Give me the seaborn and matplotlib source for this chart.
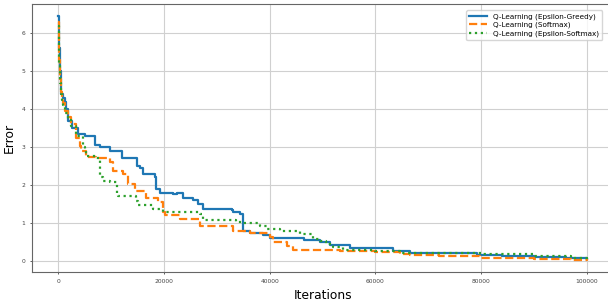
import numpy as np
import pandas as pd
import matplotlib
matplotlib.use("Agg")
import matplotlib.pyplot as plt
import seaborn as sns

# breakpoints (iteration, error); drawn as post-steps
greedy_x = [0, 100, 250, 400, 570, 900, 1200, 1500, 1800, 2500, 3650, 5000, 6900, 7800,
            9700, 12100, 14800, 15500, 16000, 18240, 18560, 19200, 21700, 22350, 23600,
            25500, 26400, 27400, 32760, 33000, 34400, 35000, 36200, 38700, 40000, 46400,
            49500, 51400, 55200, 63400, 66500, 79200, 84000, 90000, 96000, 100000]
greedy_y = [6.45, 5.6, 5.0, 4.7, 4.4, 4.3, 4.2, 4.0, 3.7, 3.5, 3.35, 3.3, 3.06, 3.0,
            2.9, 2.71, 2.5, 2.45, 2.3, 2.2, 1.89, 1.8, 1.76, 1.8, 1.65, 1.6, 1.5, 1.37,
            1.35, 1.28, 1.24, 0.8, 0.73, 0.67, 0.6, 0.55, 0.49, 0.42, 0.33, 0.27, 0.21,
            0.16, 0.13, 0.1, 0.07, 0.05]

softmax_x = [0, 100, 250, 400, 600, 900, 1300, 1800, 2400, 3400, 4000, 4360, 5300, 7200,
             7400, 9700, 10340, 12240, 13180, 14450, 16670, 18860, 19800, 20200, 22970,
             26800, 33070, 36200, 40000, 40650, 43200, 44400, 53300, 60000, 64600, 66500,
             72000, 79800, 90000, 97000, 100000]
softmax_y = [6.3, 5.3, 4.8, 4.45, 4.3, 4.15, 3.95, 3.78, 3.6, 3.25, 3.03, 2.9, 2.73, 2.7,
             2.72, 2.6, 2.38, 2.29, 2.03, 1.85, 1.67, 1.54, 1.28, 1.22, 1.1, 0.93, 0.8,
             0.73, 0.62, 0.49, 0.4, 0.29, 0.26, 0.24, 0.18, 0.16, 0.12, 0.07, 0.05, 0.03,
             0.04]

esoftmax_x = [0, 100, 250, 400, 600, 900, 1300, 1800, 2400, 3400, 4660, 5000, 5300, 7200,
              7830, 8400, 9700, 11000, 11300, 13500, 14770, 15080, 17920, 19800, 26800,
              27400, 33000, 33700, 35000, 38100, 39400, 41900, 45100, 45700, 48200, 49500,
              50700, 52000, 53900, 60000, 64600, 80000, 90000, 97000, 100000]
esoftmax_y = [6.2, 5.2, 4.7, 4.4, 4.25, 4.1, 3.9, 3.75, 3.55, 3.3, 2.99, 2.9, 2.77, 2.7,
              2.2, 2.11, 2.07, 1.8, 1.72, 1.72, 1.59, 1.47, 1.37, 1.3, 1.24, 1.09, 1.09,
              1.03, 1.0, 0.93, 0.84, 0.8, 0.8, 0.71, 0.58, 0.53, 0.45, 0.38, 0.3, 0.27,
              0.2, 0.19, 0.12, 0.07, 0.06]

labels = ["Q-Learning (Epsilon-Greedy)", "Q-Learning (Softmax)", "Q-Learning (Epsilon-Softmax)"]

frames = []
for name, xs, ys in zip(labels, [greedy_x, softmax_x, esoftmax_x],
                        [greedy_y, softmax_y, esoftmax_y]):
    frames.append(pd.DataFrame({"Iterations": xs, "Error": ys, "method": name}))
df = pd.concat(frames, ignore_index=True)

fig = plt.figure(figsize=(6.08, 3.08), dpi=100)
# the reference is cropped just inside the right spine
ax = fig.add_axes([0.0526, 0.117, 0.956, 0.870])

palette = {labels[0]: "#1f77b4", labels[1]: "#ff7f0e", labels[2]: "#2ca02c"}
styles = {labels[0]: "-", labels[1]: "--", labels[2]: ":"}
for name in labels:
    sub = df[df["method"] == name]
    sns.lineplot(data=sub, x="Iterations", y="Error", ax=ax, color=palette[name],
                 linestyle=styles[name], linewidth=1.6, drawstyle="steps-post",
                 label=name, sort=False)

ax.grid(True, color="#d0d0d0", linewidth=0.8)
ax.set_axisbelow(True)
for s in ax.spines.values():
    s.set_color("#666666")
    s.set_linewidth(0.8)
ax.tick_params(labelsize=4.3, colors="#444444", length=1.5, width=0.6)
ax.set_xlabel("Iterations", fontsize=8.8)
ax.set_ylabel("Error", fontsize=8.8)
ax.legend(loc="upper right", bbox_to_anchor=(0.987, 0.99), fontsize=5.2, frameon=True,
          handlelength=2.5, borderpad=0.4, labelspacing=0.3)

fig.savefig("out.png", dpi=100)
